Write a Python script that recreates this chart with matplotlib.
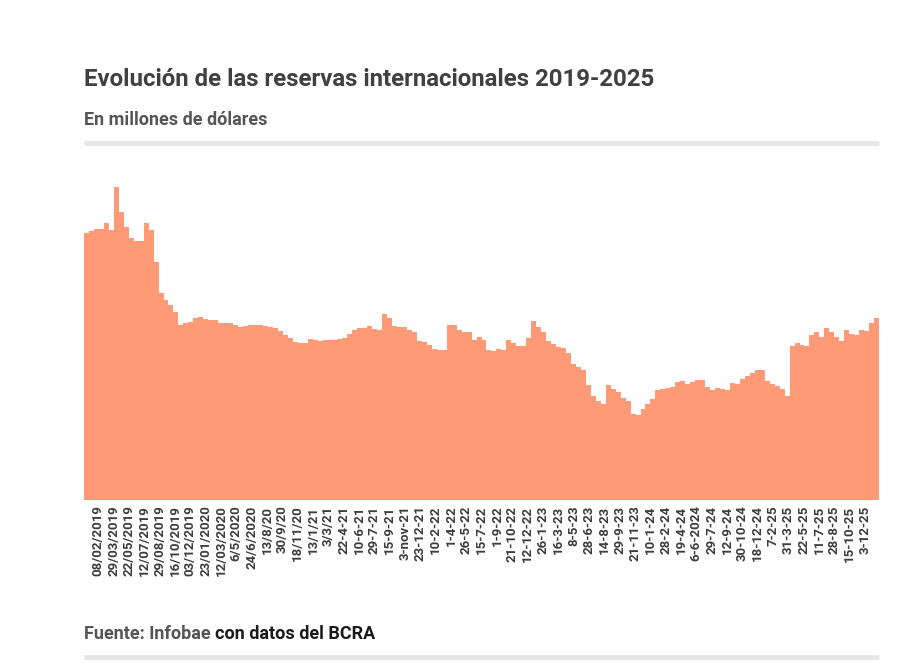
import matplotlib
matplotlib.use('Agg')
import matplotlib.pyplot as plt
from matplotlib.lines import Line2D
import numpy as np

# reservas internacionales, millones de USD (lectura del gráfico, ~11 ruedas por barra)
reserves = [
    66875, 67375, 67675, 67675, 69325, 67500, 78250, 72075, 68325, 65425,
    64750, 64750, 69250, 67500, 59575, 51750, 50000, 48750, 47000, 43875,
    44250, 44575, 45500, 45825, 45375, 45125, 45000, 44375, 44250, 44175,
    43875, 43250, 43500, 43675, 43675, 43675, 43575, 43375, 43000, 42250,
    41375, 40625, 39500, 39175, 39375, 40175, 40000, 39750, 40125, 40125,
    40000, 40375, 40625, 41500, 42500, 43075, 43075, 43425, 42875, 42500,
    46550, 45500, 43500, 43375, 43175, 42625, 42000, 39750, 39625, 38750,
    37750, 37500, 37500, 43750, 43750, 42500, 41925, 41925, 40000, 40825,
    40000, 37625, 37300, 37750, 37500, 40125, 39250, 38500, 38625, 40500,
    44750, 43250, 42000, 39875, 39000, 38375, 38000, 36750, 34050, 33375,
    32625, 28750, 26125, 24750, 24125, 28750, 27750, 27125, 25625, 24875,
    21550, 21325, 22750, 24125, 25375, 27500, 27700, 28125, 28200, 29625,
    29750, 29000, 29500, 30125, 30000, 28250, 27625, 27925, 27875, 27625,
    29250, 29000, 30250, 31125, 31875, 32625, 32500, 29875, 29125, 28625,
    27875, 26000, 38500, 39300, 38800, 38500, 41250, 42075, 40750, 43000,
    42075, 40875, 39750, 42500, 41625, 41250, 42450, 42375, 44375, 45500,
]

tick_labels = [
    '08/02/2019', '29/03/2019', '22/05/2019', '12/07/2019', '29/08/2019',
    '16/10/2019', '03/12/2019', '23/01/2020', '12/03/2020', '6/5/2020',
    '24/6/2020', '13/8/20', '30/9/20', '18/11/20', '13/1/21', '3/3/21',
    '22-4-21', '10-6-21', '29-7-21', '15-9-21', '3-nov-21', '23-12-21',
    '10-2-22', '1-4-22', '26-5-22', '15-7-22', '1-9-22', '21-10-22',
    '12-12-22', '26-1-23', '16-3-23', '8-5-23', '28-6-23', '14-8-23',
    '29-9-23', '21-11-23', '10-1-24', '28-2-24', '19-4-24', '6-6-2024',
    '29-7-24', '12-9-24', '30-10-24', '18-12-24', '7-2-25', '31-3-25',
    '22-5-25', '11-7-25', '28-8-25', '15-10-25', '3-12-25',
]

BAR_COLOR = '#fe9a75'
TEXT_DARK = '#3d3d3d'

plt.rcParams['font.family'] = ['Roboto', 'DejaVu Sans']

fig = plt.figure(figsize=(9.24, 6.72), dpi=100)
ax = fig.add_axes([84 / 924, 172 / 672, 795 / 924, 330 / 672])

n = len(reserves)
x = np.arange(n)
ax.bar(x, reserves, width=1.0, color=BAR_COLOR, linewidth=0)
ax.set_xlim(-0.5, n - 0.5)
ax.set_ylim(0, 82500)

# etiquetas cada ~35 ruedas, espaciado uniforme
tick_pos = 2.38 + np.arange(len(tick_labels)) * 3.086
ax.set_xticks(tick_pos)
ax.set_xticklabels(tick_labels, rotation=90, fontsize=9.5, fontweight='bold',
                   color=TEXT_DARK)
ax.tick_params(axis='x', length=0, pad=4)
ax.set_yticks([])
for s in ax.spines.values():
    s.set_visible(False)

fig.text(84 / 924, 1 - 86 / 672, 'Evolución de las reservas internacionales 2019-2025',
         fontsize=17.3, fontweight='bold', color='#404040', va='baseline')
fig.text(84 / 924, 1 - 125 / 672, 'En millones de dólares',
         fontsize=13, fontweight='bold', color='#555555', va='baseline')

for ypix in (143, 657):
    fig.add_artist(Line2D([84 / 924, 879 / 924], [1 - ypix / 672] * 2,
                          color='#e6e6e6', linewidth=3.5, solid_capstyle='butt',
                          transform=fig.transFigure))

t1 = fig.text(84 / 924, 1 - 639 / 672, 'Fuente: Infobae ',
              fontsize=13, fontweight='bold', color='#555555', va='baseline')
renderer = fig.canvas.get_renderer()
bb = t1.get_window_extent(renderer=renderer)
fig.text(bb.x1 / fig.bbox.width, 1 - 639 / 672, 'con datos del BCRA',
         fontsize=13, fontweight='bold', color='#1a1a1a', va='baseline')

fig.savefig('out.png', dpi=100)
